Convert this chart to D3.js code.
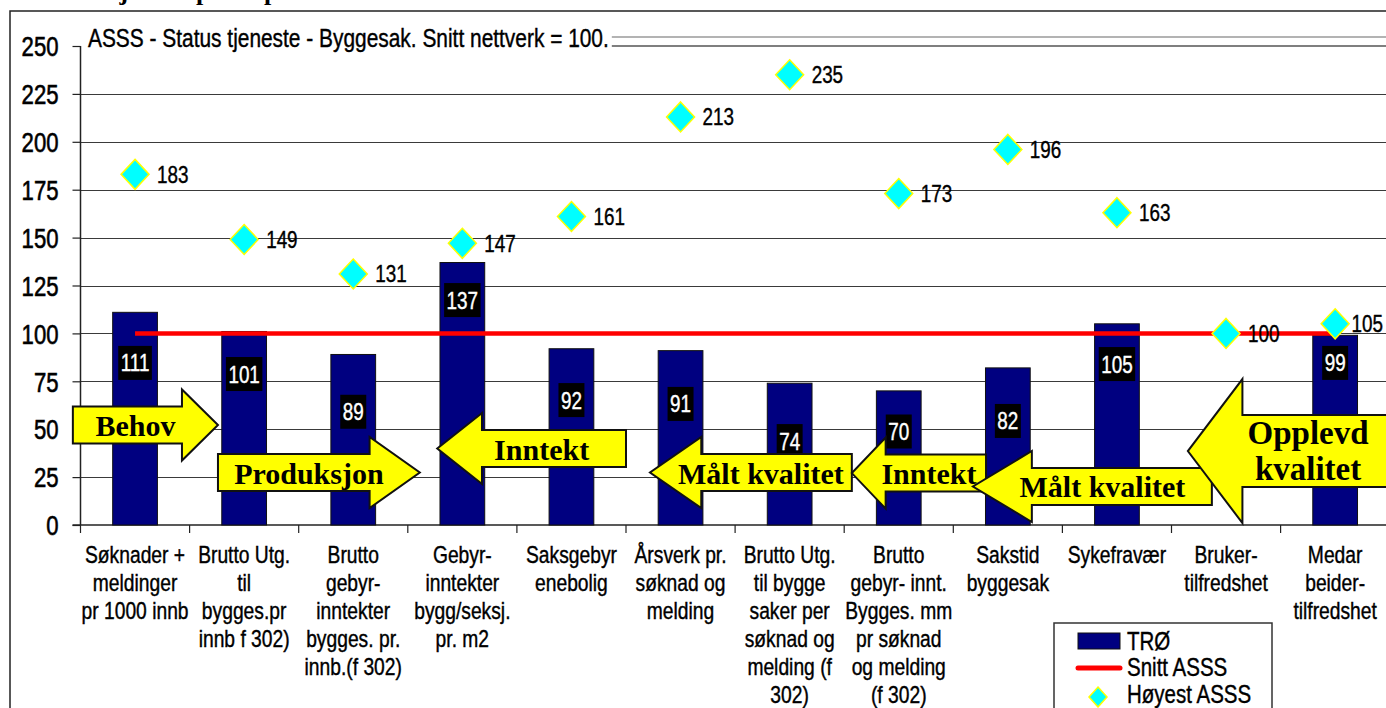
<!DOCTYPE html>
<html>
<head>
<meta charset="utf-8">
<script src="https://cdn.jsdelivr.net/npm/d3@7"></script>
<style>
    body { margin: 0; background: #fff; overflow: hidden; }
    svg { display: block; }
    text { font-family: "Liberation Sans", Arial, sans-serif; fill: #000; stroke: #000; stroke-width: 0.4px; }
    text.inv { fill: #fff; stroke: #fff; }
    .serif { font-family: "Liberation Serif", "Times New Roman", serif; font-weight: bold; stroke: none; }
</style>
</head>
<body>
<svg id="chart" width="1386" height="708"></svg>
<script>
// data
const categories = [
    ["Søknader +", "meldinger", "pr 1000 innb"],
    ["Brutto Utg.", "til", "bygges.pr", "innb f 302)"],
    ["Brutto", "gebyr-", "inntekter", "bygges. pr.", "innb.(f 302)"],
    ["Gebyr-", "inntekter", "bygg/seksj.", "pr. m2"],
    ["Saksgebyr", "enebolig"],
    ["Årsverk pr.", "søknad og", "melding"],
    ["Brutto Utg.", "til bygge", "saker per", "søknad og", "melding (f", "302)"],
    ["Brutto", "gebyr- innt.", "Bygges. mm", "pr søknad", "og melding", "(f 302)"],
    ["Sakstid", "byggesak"],
    ["Sykefravær"],
    ["Bruker-", "tilfredshet"],
    ["Medar", "beider-", "tilfredshet"]
];
const troValues = [111, 101, 89, 137, 92, 91, 74, 70, 82, 105, null, 99];
const snittValues = [100, 100, 100, 100, 100, 100, 100, 100, 100, 100, 100, 100];
const hoyestValues = [183, 149, 131, 147, 161, 213, 235, 173, 196, 163, 100, 105];
// where each value box sits on the axis (they were placed by hand in the original)
const labelAt = [84.6, 78.8, 59.1, 117.4, 65.2, 63.2, 43.8, 48.8, 54.3, 84.0, null, 84.6];
const yTicks = [0, 25, 50, 75, 100, 125, 150, 175, 200, 225, 250];
const seriesNames = ["TRØ", "Snitt ASSS", "Høyest ASSS"];
const chartTitle = "ASSS - Status tjeneste - Byggesak. Snitt nettverk = 100.";
const arrowTexts = [["Behov"], ["Produksjon"], ["Inntekt"], ["Målt kvalitet"], ["Inntekt"], ["Målt kvalitet"], ["Opplevd", "kvalitet"]];
// arrows in chart units: u = category slots from the axis, v = axis value
const arrowDir = [1, 1, -1, -1, -1, -1, -1];
const arrowTail = [-0.07, 1.26, 5.0, 7.07, 8.3, 10.37, 12.17];
const arrowHeadBase = [0.93, 2.65, 3.68, 5.69, 7.38, 8.72, 10.65];
const arrowTip = [1.26, 3.11, 3.27, 5.22, 7.07, 8.18, 10.15];
const arrowAt = [52.2, 27.4, 39.9, 27.4, 27.1, 20.1, 38.6];
const arrowBig = [false, false, false, false, false, false, true];

const svg = d3.select("#chart");
const W = 1386, H = 708;
const plot = {left: 80.5, right: 1389.7, top: 46, bottom: 525};
const NARROW = 0.82; // squeeze Liberation Sans to Arial Narrow width

const slot = d3.scaleBand().domain(d3.range(categories.length)).range([plot.left, plot.right]);
const barW = slot.step() * 0.41;
const y = d3.scaleLinear().domain([0, 250]).range([plot.bottom, plot.top]);
const cx = i => slot(i) + slot.step() / 2;
const ux = u => plot.left + u * slot.step();

const diamond = (x0, y0, w, h) => `M${x0},${y0 - h / 2}L${x0 + w / 2},${y0}L${x0},${y0 + h / 2}L${x0 - w / 2},${y0}Z`;

function narrow(sel) {
    sel.each(function() {
        const t = d3.select(this);
        const x = +t.attr("x") || 0;
        t.attr("x", x / NARROW).attr("transform", `scale(${NARROW},1)`);
        t.selectAll("tspan").each(function() {
            const s = d3.select(this);
            s.attr("x", (+s.attr("x") || 0) / NARROW);
        });
    });
    return sel;
}

// cut-off heading above the frame
svg.append("text").attr("class", "serif").attr("x", 18).attr("y", -0.5).attr("font-size", 26)
    .text("Status: Tjenesteprofil pr. kommune");

// frame
svg.append("path").attr("d", `M10,${H}V11H${W}`).attr("fill", "none").attr("stroke", "#222").attr("stroke-width", 1.5);

// gridlines
svg.append("g").selectAll("line").data(yTicks.filter(t => t > 0 && t < 250)).enter().append("line")
    .attr("x1", plot.left).attr("x2", W)
    .attr("y1", d => Math.round(y(d)) + 0.5).attr("y2", d => Math.round(y(d)) + 0.5)
    .attr("stroke", "#3a3a3a").attr("stroke-width", 1);

// title
const titleText = svg.append("text").attr("x", 88).attr("y", 47).attr("font-size", 25.5).text(chartTitle);
narrow(titleText);
const titleEnd = 88 + titleText.node().getComputedTextLength() * NARROW + 3;
svg.append("line").attr("x1", titleEnd).attr("x2", W).attr("y1", 37).attr("y2", 37).attr("stroke", "#9a9a9a").attr("stroke-width", 1.5);
svg.append("line").attr("x1", titleEnd).attr("x2", W).attr("y1", y(250)).attr("y2", y(250)).attr("stroke", "#555").attr("stroke-width", 1.5);

// y axis
const yAxis = svg.append("g").attr("transform", `translate(${plot.left},0)`)
    .call(d3.axisLeft(y).tickValues(yTicks).tickSize(8).tickPadding(14));
yAxis.attr("font-family", null).attr("font-size", null);
yAxis.select(".domain").attr("stroke", "#222").attr("stroke-width", 1.5).attr("d", `M0,${y(250)}V${y(0)}`);
yAxis.selectAll(".tick line").attr("stroke", "#222").attr("stroke-width", 1.2);
narrow(yAxis.selectAll(".tick text").attr("font-size", 27).attr("dy", "0.36em").style("fill", "#000").style("stroke-width", "0.6px"));

// x axis line + ticks between slots
svg.append("line").attr("x1", plot.left - 8).attr("x2", W).attr("y1", y(0)).attr("y2", y(0)).attr("stroke", "#222").attr("stroke-width", 1.5);
svg.append("g").selectAll("line").data(d3.range(categories.length)).enter().append("line")
    .attr("x1", d => slot(d)).attr("x2", d => slot(d))
    .attr("y1", y(0)).attr("y2", y(0) + 8).attr("stroke", "#222").attr("stroke-width", 1.2);

// bars (the empty category just gets no rect)
svg.append("g").selectAll("rect").data(troValues.map((v, i) => ({v, i})).filter(d => d.v != null)).enter().append("rect")
    .attr("x", d => cx(d.i) - barW / 2)
    .attr("y", d => y(d.v)).attr("width", barW).attr("height", d => y(0) - y(d.v))
    .attr("fill", "#000080").attr("stroke", "#111").attr("stroke-width", 1);

// Snitt ASSS line
svg.append("path").datum(snittValues)
    .attr("d", d3.line().x((d, i) => cx(i)).y(d => y(d)))
    .attr("fill", "none").attr("stroke", "#ff0000").attr("stroke-width", 4.5);

// Høyest ASSS markers
const hi = svg.append("g").selectAll("g").data(hoyestValues).enter().append("g");
hi.append("path").attr("d", (d, i) => diamond(cx(i), y(d), 28, 30))
    .attr("fill", "#00ffff").attr("stroke", "#ffff00").attr("stroke-width", 1.5);
const hiText = hi.append("text").attr("x", (d, i) => cx(i) + 22).attr("y", d => y(d) + 8.5)
    .attr("font-size", 23).text(d => d);
hiText.each(function() {
    // keep the last label inside the picture, like the original
    const t = d3.select(this);
    const w = this.getComputedTextLength() * NARROW;
    if (+t.attr("x") + w > W - 3) t.attr("x", W - 3 - w);
});
narrow(hiText);

// value boxes on bars
troValues.forEach((d, i) => {
    if (d == null) return;
    const g = svg.append("g");
    const t = g.append("text").attr("class", "inv").attr("x", cx(i)).attr("y", y(labelAt[i]) + 8.5)
        .attr("text-anchor", "middle").attr("font-size", 23).text(d);
    narrow(t);
    const w = t.node().getComputedTextLength() * NARROW + 5;
    g.insert("rect", "text").attr("x", cx(i) - w / 2).attr("y", y(labelAt[i]) - 17)
        .attr("width", w).attr("height", 34).attr("fill", "#000");
});

// arrows
arrowTexts.forEach((lines, k) => {
    const tip = ux(arrowTip[k]), base = ux(arrowHeadBase[k]), tail = ux(arrowTail[k]);
    const yc = y(arrowAt[k]);
    const bh = arrowBig[k] ? 36 : 18.5, hh = arrowBig[k] ? 72 : 35.5;
    const p = d3.path();
    p.moveTo(tail, yc - bh); p.lineTo(base, yc - bh); p.lineTo(base, yc - hh);
    p.lineTo(tip, yc); p.lineTo(base, yc + hh); p.lineTo(base, yc + bh);
    p.lineTo(tail, yc + bh); p.closePath();
    svg.append("path").attr("d", p.toString()).attr("fill", "#ffff00").attr("stroke", "#111").attr("stroke-width", 2).attr("stroke-linejoin", "miter");
    const tx = (tip + tail) / 2 - arrowDir[k] * 10;
    const fs = arrowBig[k] ? 33 : 30;
    const t = svg.append("text").attr("class", "serif").attr("text-anchor", "middle").attr("font-size", fs);
    lines.forEach((s, j) => {
        t.append("tspan").attr("x", tx).attr("y", yc + 11 + (j - (lines.length - 1) / 2) * 36).text(s);
    });
});

// category labels
const cat = svg.append("g").selectAll("text").data(categories).enter().append("text")
    .attr("text-anchor", "middle").attr("font-size", 23.5);
cat.selectAll("tspan").data((d, i) => d.map(s => ({s, i}))).enter().append("tspan")
    .attr("x", d => cx(d.i)).attr("y", (d, j) => 563 + j * 28).text(d => d.s);
narrow(cat);

// legend
const lg = svg.append("g").attr("transform", "translate(1054,623)");
lg.append("rect").attr("width", 218).attr("height", 120).attr("fill", "#fff").attr("stroke", "#333").attr("stroke-width", 1.5);
lg.append("rect").attr("x", 24).attr("y", 10).attr("width", 42).attr("height", 16).attr("fill", "#000080").attr("stroke", "#111");
lg.append("line").attr("x1", 24).attr("x2", 66).attr("y1", 45).attr("y2", 45).attr("stroke", "#ff0000").attr("stroke-width", 5).attr("stroke-linecap", "round");
lg.append("path").attr("d", diamond(44, 74, 18, 20)).attr("fill", "#00ffff").attr("stroke", "#ffff00").attr("stroke-width", 1.5);
narrow(lg.selectAll("text.lab").data(seriesNames).enter().append("text").attr("class", "lab")
    .attr("x", 73).attr("y", (d, i) => 27 + i * 26.5).attr("font-size", 25).text(d => d));
</script>
</body>
</html>
